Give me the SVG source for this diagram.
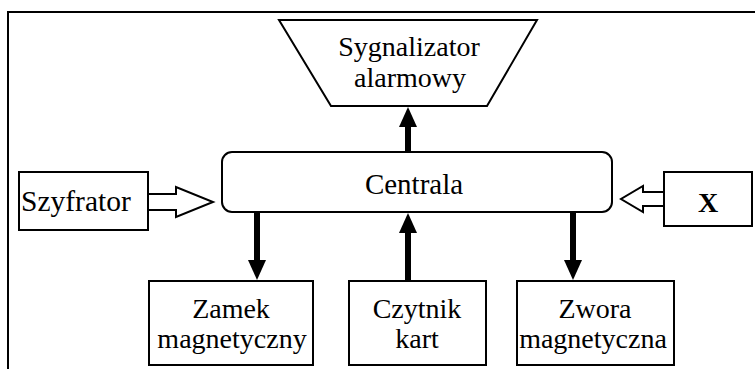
<svg xmlns="http://www.w3.org/2000/svg" width="755" height="369" viewBox="0 0 755 369">
<style>
.box{fill:#fff;stroke:#000;stroke-width:2}
.t{font-family:'Liberation Serif','DejaVu Serif',serif;font-size:28px;fill:#000;text-anchor:middle}
.hollow{fill:#fff;stroke:#000;stroke-width:2;stroke-linejoin:miter}
.conn{stroke:#000;stroke-width:6;fill:none;marker-end:url(#ah)}
</style>
<defs>
<marker id="ah" viewBox="0 0 20 18" markerWidth="20" markerHeight="18" markerUnits="userSpaceOnUse" refX="0" refY="9" orient="auto">
<path d="M0,0 L20,9 L0,18 Z" fill="#000"/>
</marker>
</defs>
<rect width="755" height="369" fill="#fff"/>
<path d="M8,369 V12 H755" fill="none" stroke="#000" stroke-width="2"/>
<g id="sygnalizator">
<polygon class="box" points="279,20 537,20 487,106 331,106"/>
<text class="t" x="409" y="56">Sygnalizator</text>
<text class="t" x="410" y="87">alarmowy</text>
</g>
<g id="centrala">
<rect class="box" x="222" y="152" width="390" height="60" rx="10"/>
<text class="t" x="414" y="194" style="font-size:29px">Centrala</text>
</g>
<g id="szyfrator">
<rect class="box" x="19" y="172" width="129" height="58"/>
<text class="t" x="21" y="211" style="text-anchor:start;font-size:29.5px">Szyfrator</text>
</g>
<g id="x">
<rect class="box" x="664" y="172" width="88" height="54"/>
<text class="t" x="708" y="212" style="font-weight:bold">X</text>
</g>
<g id="zamek">
<rect class="box" x="149" y="281" width="164" height="84"/>
<text class="t" x="231" y="318">Zamek</text>
<text class="t" x="232" y="348">magnetyczny</text>
</g>
<g id="czytnik">
<rect class="box" x="349" y="281" width="137" height="84"/>
<text class="t" x="417" y="318">Czytnik</text>
<text class="t" x="417" y="348">kart</text>
</g>
<g id="zwora">
<rect class="box" x="517" y="281" width="157" height="84"/>
<text class="t" x="595" y="318">Zwora</text>
<text class="t" x="593" y="348">magnetyczna</text>
</g>
<g id="connectors">
<polygon class="hollow" points="148,194 176,194 176,187 213,202 176,217 176,210 148,210"/>
<polygon class="hollow" points="664,192 643,192 643,186 621,199 643,212 643,206 664,206"/>
<line class="conn" x1="408" y1="152" x2="408" y2="127"/>
<line class="conn" x1="408" y1="281" x2="408" y2="233"/>
<line class="conn" x1="257" y1="213" x2="257" y2="260"/>
<line class="conn" x1="573" y1="213" x2="573" y2="260"/>
</g>
</svg>
